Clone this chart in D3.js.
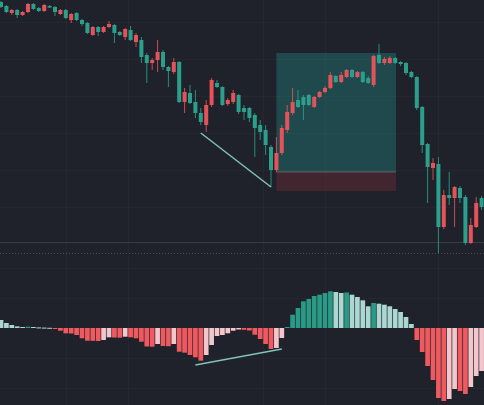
<!DOCTYPE html>
<html>
<head>
<meta charset="utf-8">
<script src="https://cdn.jsdelivr.net/npm/d3@7"></script>
<style>
  html, body { margin: 0; padding: 0; background: #1f222b; }
  svg { display: block; }
</style>
</head>
<body>
<svg class="chart"></svg>
<script>
// candle values (price), one entry per bar
const candleOpen = [30960, 30880, 30740, 30800, 30700, 30760, 30920, 30840, 30780, 30880,
    30860, 30720, 30800, 30600, 30740, 30600, 30540, 30300, 30460, 30360,
    30460, 30500, 30360, 30260, 30400, 30160, 30200, 29900, 29740, 29800,
    29960, 29660, 29560, 29760, 28960, 29140, 28960, 28740, 28500, 28900,
    29340, 29260, 28920, 28960, 29100, 28840, 28840, 28700, 28500, 28400,
    28060, 27600, 27940, 28400, 28740, 29000, 29060, 29100, 28860, 29060,
    29160, 29240, 29480, 29360, 29460, 29600, 29460, 29560, 29440, 29300,
    29900, 29740, 29740, 29840, 29760, 29740, 29560, 29460, 28860, 28120,
    27640, 27720, 26460, 27100, 27040, 27240, 27060, 26140, 26460, 27040];
const candleClose = [30860, 30760, 30800, 30700, 30760, 30920, 30820, 30780, 30900, 30850,
    30760, 30800, 30640, 30720, 30600, 30520, 30340, 30460, 30360, 30460,
    30520, 30340, 30300, 30420, 30200, 30300, 29860, 29740, 29800, 29960,
    29660, 29580, 29760, 28960, 29160, 28940, 28740, 28560, 28900, 29400,
    29260, 28900, 29000, 29140, 28760, 28760, 28640, 28440, 28360, 28100,
    27600, 27940, 28440, 28760, 28960, 28860, 28900, 28900, 29060, 29160,
    29240, 29500, 29360, 29500, 29600, 29460, 29560, 29360, 29340, 29880,
    29740, 29820, 29840, 29740, 29720, 29540, 29460, 28840, 28100, 27660,
    27740, 26460, 27100, 27040, 27260, 27040, 26140, 26500, 26940, 26860];
const candleHigh = [30980, 30900, 30820, 30820, 30780, 30940, 30940, 30860, 30920, 30900,
    30880, 30820, 30820, 30740, 30760, 30620, 30560, 30480, 30480, 30480,
    30580, 30520, 30380, 30440, 30480, 30340, 30260, 29940, 29840, 30200,
    30000, 29680, 29840, 29780, 29240, 29300, 29200, 28840, 29000, 29440,
    29400, 29280, 29040, 29200, 29120, 28900, 28860, 28740, 28600, 28500,
    28100, 28260, 28500, 28900, 29240, 29200, 29100, 29120, 29080, 29180,
    29280, 29560, 29500, 29560, 29620, 29620, 29580, 29580, 29480, 29900,
    30120, 29860, 29880, 29860, 29780, 29760, 29580, 29480, 28880, 28140,
    27840, 27860, 27200, 27560, 27280, 27280, 27100, 26640, 27060, 27080];
const candleLow = [30840, 30740, 30700, 30640, 30680, 30740, 30800, 30760, 30760, 30840,
    30680, 30700, 30620, 30540, 30580, 30480, 30320, 30280, 30280, 30340,
    30440, 30140, 30280, 30200, 30180, 30060, 29740, 29340, 29600, 29560,
    29600, 29260, 29520, 28940, 28740, 28920, 28640, 28500, 28360, 28860,
    29240, 28880, 28880, 28920, 28720, 28600, 28560, 27860, 28200, 27900,
    27260, 27560, 27900, 28340, 28700, 28840, 28600, 28880, 28840, 29040,
    29140, 29220, 29340, 29340, 29440, 29440, 29440, 29340, 29320, 29260,
    29720, 29700, 29720, 29720, 29680, 29500, 29440, 28800, 27940, 26940,
    27400, 25940, 26420, 26900, 26460, 26940, 26100, 26120, 26440, 26800];

// MACD histogram, one entry per bar
const macdHist = [80, 50, 30, 16, 10, 13, 10, 6, 4, 2,
    -10, -27, -53, -55, -70, -103, -127, -128, -130, -120,
    -93, -95, -97, -87, -93, -103, -137, -185, -187, -160,
    -180, -182, -160, -237, -247, -270, -293, -327, -270, -170,
    -80, -70, -53, -27, -15, -18, -25, -67, -110, -160,
    -210, -200, -100, 10, 133, 200, 267, 290, 320, 333,
    350, 367, 360, 350, 355, 333, 310, 277, 217, 250,
    243, 233, 217, 190, 160, 110, 40, -120, -240, -380,
    -520, -700, -730, -710, -610, -630, -660, -590, -480, -430];

// long position tool
const positionStart = 51;
const positionEnd = 73;
const positionEntry = 27560;
const positionTarget = 29940;
const positionStop = 27180;

// divergence lines [bar index, value]
const priceDivergence = [[37, 28340], [50, 27260]];
const macdDivergence = [[36, -370], [52, -210]];

// grid
const timeGrid = [12, 23.5, 48.5, 60, 81];
const priceGrid = [30560, 29820, 29080, 28340, 27600, 26860];
const macdGrid = [-600, -300, 300, 600];

const canvas = {width: 484, height: 405};
const colors = {
    bg: "#1f222b",
    up: "#e5535a",
    down: "#2b9f8c",
    histUp: "#2a9a86",
    histUpFade: "#acd6d0",
    histDown: "#ee5a5f",
    histDownFade: "#f3c6cb",
    grid: "rgba(255,255,255,0.025)",
    divergence: "#7fc4b6"
};

const n = candleOpen.length;
const candles = d3.range(n).map(function (i) {
    return {i: i, o: candleOpen[i], h: candleHigh[i], l: candleLow[i], c: candleClose[i]};
});
const bars = macdHist.map(function (v, i) {
    const prev = i > 0 ? macdHist[i - 1] : Infinity;
    let color;
    if (v >= 0) color = v > prev ? colors.histUp : colors.histUpFade;
    else color = v < prev ? colors.histDown : colors.histDownFade;
    return {i: i, v: v, color: color};
});

const x = d3.scaleBand()
    .domain(d3.range(n))
    .range([-1.7, 484.3])
    .paddingInner(0.26)
    .paddingOuter(0.13);
const xi = d3.scaleLinear()
    .domain([0, n - 1])
    .range([x(0) + x.bandwidth() / 2, x(n - 1) + x.bandwidth() / 2]);

const y = d3.scaleLinear().domain([26000, 31000]).range([250, 0]);
const yMacd = d3.scaleLinear().domain([-800, 800]).range([408, 248]);

const svg = d3.select(".chart")
    .attr("width", canvas.width)
    .attr("height", canvas.height);

svg.append("rect")
    .attr("width", canvas.width)
    .attr("height", canvas.height)
    .attr("fill", colors.bg);

// grid lines
const grid = svg.append("g");
grid.selectAll(".vgrid")
    .data(timeGrid)
    .enter()
    .append("line")
    .attr("x1", function (d) { return Math.round(xi(d)) + 0.5; })
    .attr("x2", function (d) { return Math.round(xi(d)) + 0.5; })
    .attr("y1", 0)
    .attr("y2", canvas.height)
    .attr("stroke", colors.grid);
grid.selectAll(".pgrid")
    .data(priceGrid)
    .enter()
    .append("line")
    .attr("x1", 0)
    .attr("x2", canvas.width)
    .attr("y1", function (d) { return Math.round(y(d)) + 0.5; })
    .attr("y2", function (d) { return Math.round(y(d)) + 0.5; })
    .attr("stroke", colors.grid);
grid.selectAll(".mgrid")
    .data(macdGrid)
    .enter()
    .append("line")
    .attr("x1", 0)
    .attr("x2", canvas.width)
    .attr("y1", function (d) { return Math.round(yMacd(d)) + 0.5; })
    .attr("y2", function (d) { return Math.round(yMacd(d)) + 0.5; })
    .attr("stroke", colors.grid);

// pane separator
svg.append("line")
    .attr("x1", 0).attr("x2", canvas.width)
    .attr("y1", 242.5).attr("y2", 242.5)
    .attr("stroke", "rgba(255,255,255,0.11)");
svg.append("line")
    .attr("x1", 0).attr("x2", canvas.width)
    .attr("y1", 253.5).attr("y2", 253.5)
    .attr("stroke", "rgba(255,255,255,0.2)")
    .attr("stroke-dasharray", "1,2");

// position box
const boxX = xi(positionStart);
const boxW = xi(positionEnd) - xi(positionStart) + 0.8;
svg.append("rect")
    .attr("x", boxX)
    .attr("y", y(positionTarget))
    .attr("width", boxW)
    .attr("height", y(positionEntry) - y(positionTarget))
    .attr("fill", "rgba(38,166,154,0.3)");
svg.append("rect")
    .attr("x", boxX)
    .attr("y", y(positionEntry))
    .attr("width", boxW)
    .attr("height", y(positionStop) - y(positionEntry))
    .attr("fill", "rgba(242,54,69,0.16)");
svg.append("line")
    .attr("x1", boxX).attr("x2", boxX + boxW)
    .attr("y1", y(positionEntry)).attr("y2", y(positionEntry))
    .attr("stroke", "rgba(200,200,200,0.3)");

// candles
const candleG = svg.append("g").selectAll(".candle")
    .data(candles)
    .enter()
    .append("g")
    .classed("candle", true);

candleG.append("line")
    .attr("x1", function (d) { return xi(d.i); })
    .attr("x2", function (d) { return xi(d.i); })
    .attr("y1", function (d) { return y(d.h); })
    .attr("y2", function (d) { return y(d.l); })
    .attr("stroke", function (d) { return d.c >= d.o ? colors.up : colors.down; })
    .attr("stroke-opacity", 0.85)
    .attr("stroke-width", 1);

candleG.append("rect")
    .attr("x", function (d) { return x(d.i); })
    .attr("width", x.bandwidth())
    .attr("y", function (d) { return y(Math.max(d.o, d.c)); })
    .attr("height", function (d) { return Math.max(1, Math.abs(y(d.o) - y(d.c))); })
    .attr("fill", function (d) { return d.c >= d.o ? colors.up : colors.down; });

// macd histogram
const barW = x.step() - 0.7;
svg.append("g").selectAll(".hist")
    .data(bars)
    .enter()
    .append("rect")
    .classed("hist", true)
    .attr("x", function (d) { return xi(d.i) - barW / 2; })
    .attr("width", barW)
    .attr("y", function (d) { return Math.min(yMacd(d.v), yMacd(0)); })
    .attr("height", function (d) { return Math.max(1, Math.abs(yMacd(d.v) - yMacd(0))); })
    .attr("fill", function (d) { return d.color; });

// divergence lines
const line = d3.line();
svg.append("path")
    .attr("d", line(priceDivergence.map(function (p) { return [xi(p[0]), y(p[1])]; })))
    .attr("stroke", colors.divergence)
    .attr("stroke-width", 1.5)
    .attr("fill", "none");
svg.append("path")
    .attr("d", line(macdDivergence.map(function (p) { return [xi(p[0]), yMacd(p[1])]; })))
    .attr("stroke", colors.divergence)
    .attr("stroke-width", 1.5)
    .attr("fill", "none");
</script>
</body>
</html>
